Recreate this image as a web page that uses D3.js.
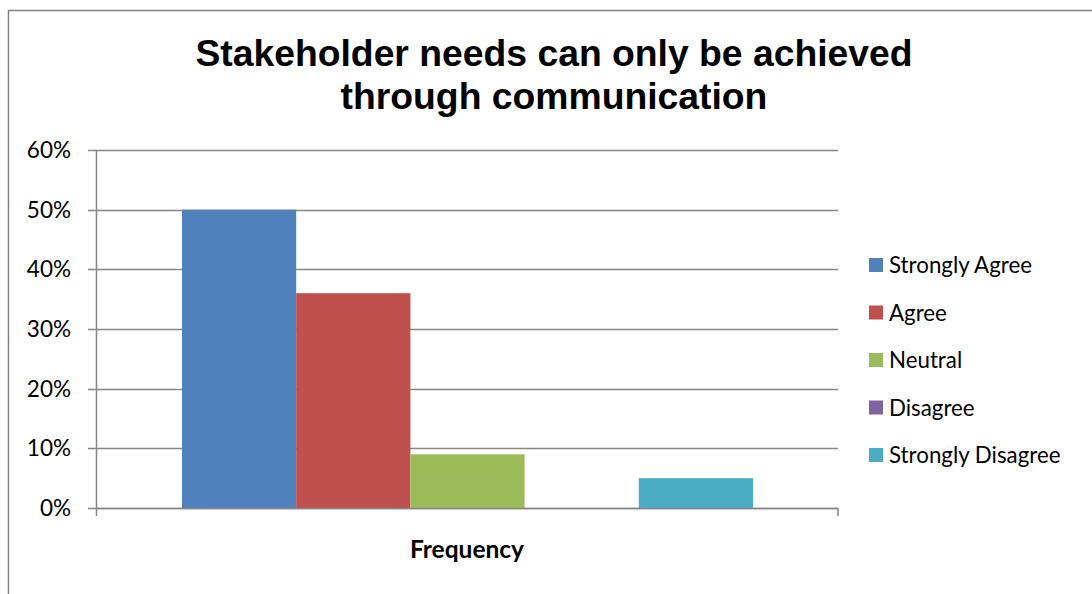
<!DOCTYPE html>
<html lang="en">
<head>
    <meta charset="UTF-8">
    <script src="https://d3js.org/d3.v7.min.js" charset="utf-8"></script>
    <title>Stakeholder needs</title>
    <style>
        body { margin: 0; background: white; }
        svg { display: block; }
    </style>
</head>
<body>
<div id="chart"></div>
<script>
    // chart data
    const categories = ["Frequency"];
    const seriesNames = ["Strongly Agree", "Agree", "Neutral", "Disagree", "Strongly Disagree"];
    const seriesValues = [0.50, 0.36, 0.09, 0.00, 0.05];
    const seriesColors = ["#4f81bd", "#c0504d", "#9bbb59", "#8064a2", "#4bacc6"];
    const yTicks = [0, 0.1, 0.2, 0.3, 0.4, 0.5, 0.6];
    const titleLines = ["Stakeholder needs can only be achieved", "through communication"];

    const width = 1092;
    const height = 594;
    const plot = {left: 96, right: 838, top: 150, bottom: 508};

    const svg = d3.select("#chart").append("svg")
        .attr("width", width)
        .attr("height", height);

    // outer chart border (only left and top are visible in the picture)
    svg.append("path")
        .attr("d", `M8.5,${height} V10.5 H${width}`)
        .attr("fill", "none")
        .attr("stroke", "#868686")
        .attr("stroke-width", 1.5);

    // title
    svg.append("text")
        .attr("x", 554)
        .attr("y", 66)
        .attr("text-anchor", "middle")
        .style("font-family", "Liberation Sans, Arial, sans-serif")
        .style("font-weight", "bold")
        .style("font-size", "37.3px")
        .selectAll("tspan")
        .data(titleLines)
        .enter()
        .append("tspan")
        .attr("x", 554)
        .attr("dy", (d, i) => i === 0 ? 0 : 43)
        .text(d => d);

    const y = d3.scaleLinear()
        .domain([0, 0.6])
        .range([plot.bottom, plot.top]);

    const x0 = d3.scaleBand()
        .domain(categories)
        .range([plot.left, plot.right]);

    // bars take the middle of the category, gap on each side like Excel's gap width
    const x1 = d3.scaleBand()
        .domain(seriesNames)
        .range([x0("Frequency") + 86, x0("Frequency") + x0.bandwidth() - 85])
        .padding(0);

    // gridlines
    svg.append("g")
        .selectAll("line")
        .data(yTicks)
        .enter()
        .append("line")
        .attr("x1", plot.left - 8)
        .attr("x2", plot.right)
        .attr("y1", d => Math.round(y(d)) + 0.5)
        .attr("y2", d => Math.round(y(d)) + 0.5)
        .attr("stroke", "#868686")
        .attr("stroke-width", 1.5);

    // y axis labels
    svg.append("g")
        .selectAll("text")
        .data(yTicks)
        .enter()
        .append("text")
        .attr("x", 71)
        .attr("y", d => y(d) + 8)
        .attr("text-anchor", "end")
        .style("font-family", "Lato, Open Sans, sans-serif")
        .style("font-size", "22.5px")
        .attr("fill", "#000")
        .text(d3.format(".0%"));

    // bars
    svg.append("g")
        .selectAll("rect")
        .data(seriesNames.map((name, i) => ({name, value: seriesValues[i], color: seriesColors[i]})))
        .enter()
        .append("rect")
        .attr("x", d => x1(d.name))
        .attr("width", x1.bandwidth())
        .attr("y", d => y(d.value))
        .attr("height", d => y(0) - y(d.value))
        .attr("fill", d => d.color);

    // axes lines
    svg.append("line")
        .attr("x1", plot.left + 0.5).attr("x2", plot.left + 0.5)
        .attr("y1", plot.top).attr("y2", plot.bottom + 8)
        .attr("stroke", "#868686").attr("stroke-width", 1.5);
    svg.append("line")
        .attr("x1", plot.left).attr("x2", plot.right)
        .attr("y1", plot.bottom + 0.5).attr("y2", plot.bottom + 0.5)
        .attr("stroke", "#868686").attr("stroke-width", 1.5);
    svg.append("line")
        .attr("x1", plot.right).attr("x2", plot.right)
        .attr("y1", plot.bottom).attr("y2", plot.bottom + 8)
        .attr("stroke", "#868686").attr("stroke-width", 1.5);

    // category label
    svg.append("g")
        .selectAll("text")
        .data(categories)
        .enter()
        .append("text")
        .attr("x", d => x0(d) + x0.bandwidth() / 2)
        .attr("y", 558)
        .attr("text-anchor", "middle")
        .style("font-family", "Lato, Open Sans, sans-serif")
        .style("font-weight", "bold")
        .style("font-size", "24.5px")
        .text(d => d);

    // legend
    const legend = svg.append("g")
        .selectAll("g")
        .data(seriesNames)
        .enter()
        .append("g")
        .attr("transform", (d, i) => `translate(869, ${265 + i * 47.5})`);

    legend.append("rect")
        .attr("x", 0)
        .attr("y", -7)
        .attr("width", 14)
        .attr("height", 14)
        .attr("fill", (d, i) => seriesColors[i]);

    legend.append("text")
        .attr("x", 20)
        .attr("y", 8)
        .style("font-family", "Lato, Open Sans, sans-serif")
        .style("font-size", "22.3px")
        .text(d => d);
</script>
</body>
</html>
